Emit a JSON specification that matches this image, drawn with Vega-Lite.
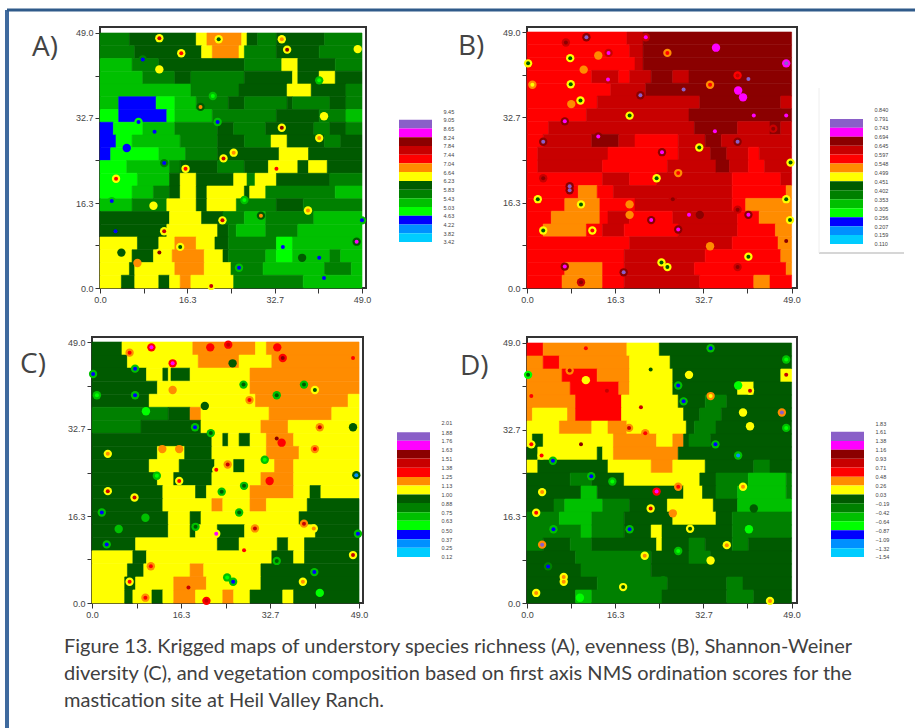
{"$schema":"https://vega.github.io/schema/vega-lite/v6.json","background":"white","padding":{"left":4,"top":7,"right":0,"bottom":0},"bounds":"flush","spacing":310,
"title":{"text":["Figure 13. Krigged maps of understory species richness (A), evenness (B), Shannon-Weiner","diversity (C), and vegetation composition based on first axis NMS ordination scores for the","mastication site at Heil Valley Ranch."],"orient":"bottom","anchor":"start","font":"Lato","fontSize":20,"fontWeight":"normal","color":"#404040","lineHeight":27,"offset":14,"dx":-28,"dy":-108,"frame":"group"},
"config":{"view":{"stroke":null},"axis":{"grid":false,"domain":false,"title":null,"tickColor":"#333","tickSize":5,"labelFont":"Liberation Sans","labelFontSize":9,"labelColor":"#444","labelOverlap":false,"labelBound":false,"labelFlush":false},"title":{"font":"Open Sans","fontSize":28,"fontWeight":"normal","color":"#444","anchor":"start","frame":"group"},"range":{"category":["#8a5fc8","#ff00ff","#8b0000","#c80000","#ff0000","#ff8c00","#ffff00","#005a00","#008000","#00c000","#00ff00","#0000ff","#0090ff","#00ccff"]},"circle":{"opacity":1}},
"datasets":{
"z":[{"v":0}],
"a":[
{"x":0,"x2":5.5,"y":46.55,"y2":49,"c":"g"},{"x":5.5,"x2":18,"y":46.55,"y2":49,"c":"G"},{"x":18,"x2":20,"y":46.55,"y2":49,"c":"y"},{"x":20,"x2":26.5,"y":46.55,"y2":49,"c":"o"},{"x":26.5,"x2":27.5,"y":46.55,"y2":49,"c":"y"},{"x":27.5,"x2":29.5,"y":46.55,"y2":49,"c":"G"},{"x":29.5,"x2":33,"y":46.55,"y2":49,"c":"g"},{"x":33,"x2":42,"y":46.55,"y2":49,"c":"G"},{"x":42,"x2":49,"y":46.55,"y2":49,"c":"g"},
{"x":0,"x2":6.5,"y":44.1,"y2":46.55,"c":"g"},{"x":6.5,"x2":19,"y":44.1,"y2":46.55,"c":"G"},{"x":19,"x2":21,"y":44.1,"y2":46.55,"c":"y"},{"x":21,"x2":26,"y":44.1,"y2":46.55,"c":"o"},{"x":26,"x2":27,"y":44.1,"y2":46.55,"c":"y"},{"x":27,"x2":33,"y":44.1,"y2":46.55,"c":"g"},{"x":33,"x2":41,"y":44.1,"y2":46.55,"c":"G"},{"x":41,"x2":49,"y":44.1,"y2":46.55,"c":"g"},
{"x":0,"x2":6,"y":41.65,"y2":44.1,"c":"m"},{"x":6,"x2":11,"y":41.65,"y2":44.1,"c":"g"},{"x":11,"x2":27,"y":41.65,"y2":44.1,"c":"G"},{"x":27,"x2":34,"y":41.65,"y2":44.1,"c":"g"},{"x":34,"x2":37,"y":41.65,"y2":44.1,"c":"y"},{"x":37,"x2":44,"y":41.65,"y2":44.1,"c":"G"},{"x":44,"x2":49,"y":41.65,"y2":44.1,"c":"g"},
{"x":0,"x2":8,"y":39.2,"y2":41.65,"c":"m"},{"x":8,"x2":14,"y":39.2,"y2":41.65,"c":"g"},{"x":14,"x2":17,"y":39.2,"y2":41.65,"c":"G"},{"x":17,"x2":27,"y":39.2,"y2":41.65,"c":"g"},{"x":27,"x2":36,"y":39.2,"y2":41.65,"c":"G"},{"x":36,"x2":37,"y":39.2,"y2":41.65,"c":"y"},{"x":37,"x2":41,"y":39.2,"y2":41.65,"c":"G"},{"x":41,"x2":44,"y":39.2,"y2":41.65,"c":"y"},{"x":44,"x2":49,"y":39.2,"y2":41.65,"c":"G"},
{"x":0,"x2":17,"y":36.75,"y2":39.2,"c":"m"},{"x":17,"x2":26,"y":36.75,"y2":39.2,"c":"g"},{"x":26,"x2":35,"y":36.75,"y2":39.2,"c":"G"},{"x":35,"x2":39.5,"y":36.75,"y2":39.2,"c":"y"},{"x":39.5,"x2":46,"y":36.75,"y2":39.2,"c":"G"},{"x":46,"x2":49,"y":36.75,"y2":39.2,"c":"g"},
{"x":0,"x2":3.5,"y":34.3,"y2":36.75,"c":"m"},{"x":3.5,"x2":10.5,"y":34.3,"y2":36.75,"c":"B"},{"x":10.5,"x2":14,"y":34.3,"y2":36.75,"c":"l"},{"x":14,"x2":18,"y":34.3,"y2":36.75,"c":"m"},{"x":18,"x2":24,"y":34.3,"y2":36.75,"c":"g"},{"x":24,"x2":27,"y":34.3,"y2":36.75,"c":"G"},{"x":27,"x2":35,"y":34.3,"y2":36.75,"c":"g"},{"x":35,"x2":36,"y":34.3,"y2":36.75,"c":"G"},{"x":36,"x2":43,"y":34.3,"y2":36.75,"c":"g"},{"x":43,"x2":46,"y":34.3,"y2":36.75,"c":"G"},{"x":46,"x2":49,"y":34.3,"y2":36.75,"c":"g"},
{"x":0,"x2":3.5,"y":31.85,"y2":34.3,"c":"l"},{"x":3.5,"x2":12.5,"y":31.85,"y2":34.3,"c":"B"},{"x":12.5,"x2":14,"y":31.85,"y2":34.3,"c":"l"},{"x":14,"x2":21,"y":31.85,"y2":34.3,"c":"m"},{"x":21,"x2":33,"y":31.85,"y2":34.3,"c":"g"},{"x":33,"x2":41,"y":31.85,"y2":34.3,"c":"G"},{"x":41,"x2":46,"y":31.85,"y2":34.3,"c":"g"},{"x":46,"x2":49,"y":31.85,"y2":34.3,"c":"m"},
{"x":0,"x2":2.5,"y":29.4,"y2":31.85,"c":"B"},{"x":2.5,"x2":8,"y":29.4,"y2":31.85,"c":"l"},{"x":8,"x2":14,"y":29.4,"y2":31.85,"c":"m"},{"x":14,"x2":22,"y":29.4,"y2":31.85,"c":"g"},{"x":22,"x2":25,"y":29.4,"y2":31.85,"c":"G"},{"x":25,"x2":31,"y":29.4,"y2":31.85,"c":"g"},{"x":31,"x2":40,"y":29.4,"y2":31.85,"c":"G"},{"x":40,"x2":43,"y":29.4,"y2":31.85,"c":"g"},{"x":43,"x2":46,"y":29.4,"y2":31.85,"c":"G"},{"x":46,"x2":49,"y":29.4,"y2":31.85,"c":"g"},
{"x":0,"x2":3,"y":26.95,"y2":29.4,"c":"B"},{"x":3,"x2":6,"y":26.95,"y2":29.4,"c":"l"},{"x":6,"x2":15,"y":26.95,"y2":29.4,"c":"m"},{"x":15,"x2":22,"y":26.95,"y2":29.4,"c":"g"},{"x":22,"x2":27,"y":26.95,"y2":29.4,"c":"G"},{"x":27,"x2":32,"y":26.95,"y2":29.4,"c":"g"},{"x":32,"x2":35,"y":26.95,"y2":29.4,"c":"y"},{"x":35,"x2":42,"y":26.95,"y2":29.4,"c":"G"},{"x":42,"x2":45,"y":26.95,"y2":29.4,"c":"g"},{"x":45,"x2":49,"y":26.95,"y2":29.4,"c":"G"},
{"x":0,"x2":2,"y":24.5,"y2":26.95,"c":"B"},{"x":2,"x2":11,"y":24.5,"y2":26.95,"c":"l"},{"x":11,"x2":16,"y":24.5,"y2":26.95,"c":"m"},{"x":16,"x2":22,"y":24.5,"y2":26.95,"c":"g"},{"x":22,"x2":33.5,"y":24.5,"y2":26.95,"c":"G"},{"x":33.5,"x2":39,"y":24.5,"y2":26.95,"c":"y"},{"x":39,"x2":49,"y":24.5,"y2":26.95,"c":"G"},
{"x":0,"x2":5,"y":22.05,"y2":24.5,"c":"l"},{"x":5,"x2":13,"y":22.05,"y2":24.5,"c":"m"},{"x":13,"x2":15,"y":22.05,"y2":24.5,"c":"g"},{"x":15,"x2":22,"y":22.05,"y2":24.5,"c":"G"},{"x":22,"x2":27,"y":22.05,"y2":24.5,"c":"g"},{"x":27,"x2":31.5,"y":22.05,"y2":24.5,"c":"G"},{"x":31.5,"x2":37,"y":22.05,"y2":24.5,"c":"y"},{"x":37,"x2":39,"y":22.05,"y2":24.5,"c":"G"},{"x":39,"x2":42.5,"y":22.05,"y2":24.5,"c":"y"},{"x":42.5,"x2":49,"y":22.05,"y2":24.5,"c":"G"},
{"x":0,"x2":7,"y":19.6,"y2":22.05,"c":"l"},{"x":7,"x2":13,"y":19.6,"y2":22.05,"c":"m"},{"x":13,"x2":15,"y":19.6,"y2":22.05,"c":"G"},{"x":15,"x2":18,"y":19.6,"y2":22.05,"c":"y"},{"x":18,"x2":25,"y":19.6,"y2":22.05,"c":"G"},{"x":25,"x2":27.5,"y":19.6,"y2":22.05,"c":"y"},{"x":27.5,"x2":29,"y":19.6,"y2":22.05,"c":"g"},{"x":29,"x2":33,"y":19.6,"y2":22.05,"c":"y"},{"x":33,"x2":43,"y":19.6,"y2":22.05,"c":"G"},{"x":43,"x2":49,"y":19.6,"y2":22.05,"c":"g"},
{"x":0,"x2":6,"y":17.15,"y2":19.6,"c":"l"},{"x":6,"x2":10,"y":17.15,"y2":19.6,"c":"m"},{"x":10,"x2":13,"y":17.15,"y2":19.6,"c":"g"},{"x":13,"x2":15,"y":17.15,"y2":19.6,"c":"G"},{"x":15,"x2":18,"y":17.15,"y2":19.6,"c":"y"},{"x":18,"x2":20,"y":17.15,"y2":19.6,"c":"G"},{"x":20,"x2":27,"y":17.15,"y2":19.6,"c":"y"},{"x":27,"x2":28,"y":17.15,"y2":19.6,"c":"G"},{"x":28,"x2":31,"y":17.15,"y2":19.6,"c":"y"},{"x":31,"x2":44,"y":17.15,"y2":19.6,"c":"g"},{"x":44,"x2":49,"y":17.15,"y2":19.6,"c":"m"},
{"x":0,"x2":6,"y":14.7,"y2":17.15,"c":"m"},{"x":6,"x2":12.5,"y":14.7,"y2":17.15,"c":"g"},{"x":12.5,"x2":18,"y":14.7,"y2":17.15,"c":"y"},{"x":18,"x2":20,"y":14.7,"y2":17.15,"c":"G"},{"x":20,"x2":25.5,"y":14.7,"y2":17.15,"c":"y"},{"x":25.5,"x2":33,"y":14.7,"y2":17.15,"c":"g"},{"x":33,"x2":38,"y":14.7,"y2":17.15,"c":"G"},{"x":38,"x2":49,"y":14.7,"y2":17.15,"c":"g"},
{"x":0,"x2":13,"y":12.25,"y2":14.7,"c":"G"},{"x":13,"x2":19,"y":12.25,"y2":14.7,"c":"y"},{"x":19,"x2":23,"y":12.25,"y2":14.7,"c":"G"},{"x":23,"x2":27,"y":12.25,"y2":14.7,"c":"g"},{"x":27,"x2":31,"y":12.25,"y2":14.7,"c":"m"},{"x":31,"x2":40,"y":12.25,"y2":14.7,"c":"g"},{"x":40,"x2":49,"y":12.25,"y2":14.7,"c":"m"},
{"x":0,"x2":12.5,"y":9.8,"y2":12.25,"c":"G"},{"x":12.5,"x2":22,"y":9.8,"y2":12.25,"c":"y"},{"x":22,"x2":24,"y":9.8,"y2":12.25,"c":"G"},{"x":24,"x2":25.5,"y":9.8,"y2":12.25,"c":"g"},{"x":25.5,"x2":31,"y":9.8,"y2":12.25,"c":"m"},{"x":31,"x2":37,"y":9.8,"y2":12.25,"c":"g"},{"x":37,"x2":49,"y":9.8,"y2":12.25,"c":"m"},
{"x":0,"x2":7,"y":7.35,"y2":9.8,"c":"y"},{"x":7,"x2":11,"y":7.35,"y2":9.8,"c":"G"},{"x":11,"x2":14,"y":7.35,"y2":9.8,"c":"y"},{"x":14,"x2":18,"y":7.35,"y2":9.8,"c":"o"},{"x":18,"x2":21.5,"y":7.35,"y2":9.8,"c":"y"},{"x":21.5,"x2":24,"y":7.35,"y2":9.8,"c":"G"},{"x":24,"x2":33,"y":7.35,"y2":9.8,"c":"g"},{"x":33,"x2":36,"y":7.35,"y2":9.8,"c":"l"},{"x":36,"x2":49,"y":7.35,"y2":9.8,"c":"m"},
{"x":0,"x2":6,"y":4.9,"y2":7.35,"c":"y"},{"x":6,"x2":10,"y":4.9,"y2":7.35,"c":"G"},{"x":10,"x2":13.5,"y":4.9,"y2":7.35,"c":"y"},{"x":13.5,"x2":19.5,"y":4.9,"y2":7.35,"c":"o"},{"x":19.5,"x2":23,"y":4.9,"y2":7.35,"c":"y"},{"x":23,"x2":24,"y":4.9,"y2":7.35,"c":"G"},{"x":24,"x2":31,"y":4.9,"y2":7.35,"c":"g"},{"x":31,"x2":33,"y":4.9,"y2":7.35,"c":"m"},{"x":33,"x2":36,"y":4.9,"y2":7.35,"c":"l"},{"x":36,"x2":43,"y":4.9,"y2":7.35,"c":"m"},{"x":43,"x2":45,"y":4.9,"y2":7.35,"c":"g"},{"x":45,"x2":49,"y":4.9,"y2":7.35,"c":"m"},
{"x":0,"x2":5.5,"y":2.45,"y2":4.9,"c":"y"},{"x":5.5,"x2":6.5,"y":2.45,"y2":4.9,"c":"G"},{"x":6.5,"x2":14,"y":2.45,"y2":4.9,"c":"y"},{"x":14,"x2":19.5,"y":2.45,"y2":4.9,"c":"o"},{"x":19.5,"x2":24.5,"y":2.45,"y2":4.9,"c":"y"},{"x":24.5,"x2":30.5,"y":2.45,"y2":4.9,"c":"g"},{"x":30.5,"x2":42,"y":2.45,"y2":4.9,"c":"m"},{"x":42,"x2":47,"y":2.45,"y2":4.9,"c":"g"},{"x":47,"x2":49,"y":2.45,"y2":4.9,"c":"m"},
{"x":0,"x2":4,"y":0,"y2":2.45,"c":"y"},{"x":4,"x2":6.5,"y":0,"y2":2.45,"c":"G"},{"x":6.5,"x2":11,"y":0,"y2":2.45,"c":"y"},{"x":11,"x2":13,"y":0,"y2":2.45,"c":"G"},{"x":13,"x2":15,"y":0,"y2":2.45,"c":"y"},{"x":15,"x2":17,"y":0,"y2":2.45,"c":"o"},{"x":17,"x2":25,"y":0,"y2":2.45,"c":"y"},{"x":25,"x2":38,"y":0,"y2":2.45,"c":"g"},{"x":38,"x2":49,"y":0,"y2":2.45,"c":"m"}],
"as":[{"x":11.1,"y":48,"h":"y","k":"R"},{"x":15.2,"y":45.1,"h":"y","k":"r"},{"x":8,"y":43.9,"h":"g","k":"B"},{"x":11.1,"y":42,"h":"y","k":"y"},{"x":34,"y":47.8,"h":"y","k":"o"},{"x":35,"y":45.8,"h":"y","k":"D"},{"x":22.2,"y":47.8,"h":"y","k":"G"},{"x":48.2,"y":45.9,"h":"y","k":"y"},{"x":18.8,"y":34.8,"h":"G","k":"o"},{"x":21.1,"y":36.9,"h":"m","k":"l"},{"x":34,"y":30.8,"h":"y","k":"D"},{"x":41,"y":28.8,"h":"y","k":"o"},{"x":41.9,"y":33,"h":"y","k":"y"},{"x":7.2,"y":31.9,"h":"l","k":"B"},{"x":22,"y":31.9,"h":"m","k":"B"},{"x":5,"y":26.9,"h":"B","k":"B"},{"x":12,"y":24,"h":"g","k":"B"},{"x":10.2,"y":30,"h":"m","k":"B"},{"x":23.1,"y":24.9,"h":"y","k":"R"},{"x":25,"y":26,"h":"y","k":"o"},{"x":16,"y":22.9,"h":"y","k":"r"},{"x":33,"y":22.9,"h":"y","k":"r"},{"x":3,"y":21,"h":"y","k":"r"},{"x":2.2,"y":16.7,"h":"m","k":"B"},{"x":38.9,"y":14.9,"h":"y","k":"o"},{"x":30.1,"y":13.9,"h":"G","k":"o"},{"x":22.9,"y":13,"h":"y","k":"R"},{"x":10,"y":15.8,"h":"y","k":"y"},{"x":27,"y":16.9,"h":"m","k":"l"},{"x":12,"y":10.9,"h":"y","k":"R"},{"x":2.9,"y":10.9,"h":"G","k":"B"},{"x":11.1,"y":6.8,"h":"y","k":"D"},{"x":15,"y":7.9,"h":"y","k":"G"},{"x":4,"y":6.8,"h":"G","k":"G"},{"x":7,"y":4.8,"h":"o","k":"o"},{"x":48,"y":8.9,"h":"G","k":"M"},{"x":34.2,"y":7.9,"h":"l","k":"B"},{"x":26,"y":3.9,"h":"m","k":"B"},{"x":37.8,"y":5.8,"h":"G","k":"G"},{"x":41,"y":5.8,"h":"m","k":"B"},{"x":41.9,"y":1.9,"h":"m","k":"B"},{"x":20.8,"y":0.4,"h":"y","k":"R"},{"x":49,"y":13,"h":"m","k":"B"},{"x":41,"y":39.9,"h":"m","k":"l"}],
"b":[
{"x":0,"x2":18.5,"y":46.55,"y2":49,"c":"r"},{"x":18.5,"x2":21.5,"y":46.55,"y2":49,"c":"R"},{"x":21.5,"x2":49,"y":46.55,"y2":49,"c":"D"},
{"x":0,"x2":19,"y":44.1,"y2":46.55,"c":"r"},{"x":19,"x2":21.5,"y":44.1,"y2":46.55,"c":"R"},{"x":21.5,"x2":49,"y":44.1,"y2":46.55,"c":"D"},
{"x":0,"x2":20,"y":41.65,"y2":44.1,"c":"r"},{"x":20,"x2":21.5,"y":41.65,"y2":44.1,"c":"R"},{"x":21.5,"x2":49,"y":41.65,"y2":44.1,"c":"D"},
{"x":0,"x2":12,"y":39.2,"y2":41.65,"c":"r"},{"x":12,"x2":17,"y":39.2,"y2":41.65,"c":"R"},{"x":17,"x2":19,"y":39.2,"y2":41.65,"c":"r"},{"x":19,"x2":23,"y":39.2,"y2":41.65,"c":"R"},{"x":23,"x2":27,"y":39.2,"y2":41.65,"c":"D"},{"x":27,"x2":30,"y":39.2,"y2":41.65,"c":"R"},{"x":30,"x2":49,"y":39.2,"y2":41.65,"c":"D"},
{"x":0,"x2":15.5,"y":36.75,"y2":39.2,"c":"r"},{"x":15.5,"x2":22,"y":36.75,"y2":39.2,"c":"R"},{"x":22,"x2":49,"y":36.75,"y2":39.2,"c":"D"},
{"x":0,"x2":13,"y":34.3,"y2":36.75,"c":"r"},{"x":13,"x2":32,"y":34.3,"y2":36.75,"c":"R"},{"x":32,"x2":47,"y":34.3,"y2":36.75,"c":"D"},{"x":47,"x2":49,"y":34.3,"y2":36.75,"c":"R"},
{"x":0,"x2":11,"y":31.85,"y2":34.3,"c":"r"},{"x":11,"x2":30,"y":31.85,"y2":34.3,"c":"R"},{"x":30,"x2":49,"y":31.85,"y2":34.3,"c":"D"},
{"x":0,"x2":4,"y":29.4,"y2":31.85,"c":"r"},{"x":4,"x2":31,"y":29.4,"y2":31.85,"c":"R"},{"x":31,"x2":39,"y":29.4,"y2":31.85,"c":"D"},{"x":39,"x2":45,"y":29.4,"y2":31.85,"c":"R"},{"x":45,"x2":47,"y":29.4,"y2":31.85,"c":"D"},{"x":47,"x2":49,"y":29.4,"y2":31.85,"c":"R"},
{"x":0,"x2":3,"y":26.95,"y2":29.4,"c":"r"},{"x":3,"x2":12,"y":26.95,"y2":29.4,"c":"R"},{"x":12,"x2":17,"y":26.95,"y2":29.4,"c":"D"},{"x":17,"x2":20,"y":26.95,"y2":29.4,"c":"R"},{"x":20,"x2":28,"y":26.95,"y2":29.4,"c":"r"},{"x":28,"x2":33,"y":26.95,"y2":29.4,"c":"R"},{"x":33,"x2":36,"y":26.95,"y2":29.4,"c":"D"},{"x":36,"x2":49,"y":26.95,"y2":29.4,"c":"R"},
{"x":0,"x2":2,"y":24.5,"y2":26.95,"c":"r"},{"x":2,"x2":15,"y":24.5,"y2":26.95,"c":"R"},{"x":15,"x2":28,"y":24.5,"y2":26.95,"c":"r"},{"x":28,"x2":34,"y":24.5,"y2":26.95,"c":"R"},{"x":34,"x2":37,"y":24.5,"y2":26.95,"c":"D"},{"x":37,"x2":41,"y":24.5,"y2":26.95,"c":"R"},{"x":41,"x2":43,"y":24.5,"y2":26.95,"c":"r"},{"x":43,"x2":49,"y":24.5,"y2":26.95,"c":"R"},
{"x":0,"x2":2,"y":22.05,"y2":24.5,"c":"r"},{"x":2,"x2":14,"y":22.05,"y2":24.5,"c":"R"},{"x":14,"x2":26,"y":22.05,"y2":24.5,"c":"r"},{"x":26,"x2":35,"y":22.05,"y2":24.5,"c":"R"},{"x":35,"x2":37.5,"y":22.05,"y2":24.5,"c":"D"},{"x":37.5,"x2":41,"y":22.05,"y2":24.5,"c":"R"},{"x":41,"x2":44,"y":22.05,"y2":24.5,"c":"r"},{"x":44,"x2":49,"y":22.05,"y2":24.5,"c":"R"},
{"x":0,"x2":14,"y":19.6,"y2":22.05,"c":"r"},{"x":14,"x2":19,"y":19.6,"y2":22.05,"c":"R"},{"x":19,"x2":24,"y":19.6,"y2":22.05,"c":"r"},{"x":24,"x2":38,"y":19.6,"y2":22.05,"c":"R"},{"x":38,"x2":47,"y":19.6,"y2":22.05,"c":"r"},{"x":47,"x2":49,"y":19.6,"y2":22.05,"c":"R"},
{"x":0,"x2":9.5,"y":17.15,"y2":19.6,"c":"r"},{"x":9.5,"x2":13,"y":17.15,"y2":19.6,"c":"o"},{"x":13,"x2":16,"y":17.15,"y2":19.6,"c":"r"},{"x":16,"x2":38,"y":17.15,"y2":19.6,"c":"R"},{"x":38,"x2":48,"y":17.15,"y2":19.6,"c":"r"},{"x":48,"x2":49,"y":17.15,"y2":19.6,"c":"o"},
{"x":0,"x2":7,"y":14.7,"y2":17.15,"c":"r"},{"x":7,"x2":13.5,"y":14.7,"y2":17.15,"c":"o"},{"x":13.5,"x2":20,"y":14.7,"y2":17.15,"c":"r"},{"x":20,"x2":38,"y":14.7,"y2":17.15,"c":"R"},{"x":38,"x2":40.5,"y":14.7,"y2":17.15,"c":"r"},{"x":40.5,"x2":49,"y":14.7,"y2":17.15,"c":"o"},
{"x":0,"x2":4.5,"y":12.25,"y2":14.7,"c":"r"},{"x":4.5,"x2":13.5,"y":12.25,"y2":14.7,"c":"o"},{"x":13.5,"x2":15,"y":12.25,"y2":14.7,"c":"r"},{"x":15,"x2":19,"y":12.25,"y2":14.7,"c":"R"},{"x":19,"x2":27,"y":12.25,"y2":14.7,"c":"r"},{"x":27,"x2":39,"y":12.25,"y2":14.7,"c":"R"},{"x":39,"x2":43,"y":12.25,"y2":14.7,"c":"r"},{"x":43,"x2":49,"y":12.25,"y2":14.7,"c":"o"},
{"x":0,"x2":3,"y":9.8,"y2":12.25,"c":"r"},{"x":3,"x2":11,"y":9.8,"y2":12.25,"c":"o"},{"x":11,"x2":14,"y":9.8,"y2":12.25,"c":"r"},{"x":14,"x2":18,"y":9.8,"y2":12.25,"c":"R"},{"x":18,"x2":28,"y":9.8,"y2":12.25,"c":"r"},{"x":28,"x2":39,"y":9.8,"y2":12.25,"c":"R"},{"x":39,"x2":46,"y":9.8,"y2":12.25,"c":"r"},{"x":46,"x2":49,"y":9.8,"y2":12.25,"c":"o"},
{"x":0,"x2":19,"y":7.35,"y2":9.8,"c":"r"},{"x":19,"x2":38,"y":7.35,"y2":9.8,"c":"R"},{"x":38,"x2":46.5,"y":7.35,"y2":9.8,"c":"r"},{"x":46.5,"x2":49,"y":7.35,"y2":9.8,"c":"o"},
{"x":0,"x2":18,"y":4.9,"y2":7.35,"c":"r"},{"x":18,"x2":33,"y":4.9,"y2":7.35,"c":"R"},{"x":33,"x2":47,"y":4.9,"y2":7.35,"c":"r"},{"x":47,"x2":49,"y":4.9,"y2":7.35,"c":"o"},
{"x":0,"x2":7,"y":2.45,"y2":4.9,"c":"r"},{"x":7,"x2":14,"y":2.45,"y2":4.9,"c":"o"},{"x":14,"x2":18,"y":2.45,"y2":4.9,"c":"r"},{"x":18,"x2":31,"y":2.45,"y2":4.9,"c":"R"},{"x":31,"x2":48,"y":2.45,"y2":4.9,"c":"r"},{"x":48,"x2":49,"y":2.45,"y2":4.9,"c":"o"},
{"x":0,"x2":6.5,"y":0,"y2":2.45,"c":"r"},{"x":6.5,"x2":14,"y":0,"y2":2.45,"c":"o"},{"x":14,"x2":18,"y":0,"y2":2.45,"c":"r"},{"x":18,"x2":32,"y":0,"y2":2.45,"c":"R"},{"x":32,"x2":42,"y":0,"y2":2.45,"c":"r"},{"x":42,"x2":45,"y":0,"y2":2.45,"c":"o"},{"x":45,"x2":49,"y":0,"y2":2.45,"c":"r"}],
"bs":[{"x":11,"y":48,"h":"D","k":"P"},{"x":22,"y":48,"h":"R","k":"M"},{"x":7.2,"y":47,"h":"R","k":"D"},{"x":26,"y":45,"h":"o","k":"r"},{"x":35,"y":46,"h":"M","k":"M"},{"x":15.1,"y":45,"h":"R","k":"M"},{"x":8,"y":44,"h":"y","k":"G"},{"x":0.2,"y":43,"h":"y","k":"G"},{"x":13.2,"y":44.5,"h":"o","k":"o"},{"x":48,"y":43,"h":"M","k":"P"},{"x":10.5,"y":41.8,"h":"o","k":"o"},{"x":15,"y":39.9,"h":"R","k":"M"},{"x":8.1,"y":39,"h":"y","k":"G"},{"x":1,"y":38.9,"h":"o","k":"y"},{"x":41,"y":40,"h":"D","k":"P"},{"x":39,"y":40.7,"h":"r","k":"R"},{"x":33.9,"y":38.9,"h":"o","k":"r"},{"x":29,"y":38,"h":"D","k":"P"},{"x":21,"y":36.9,"h":"D","k":"P"},{"x":39.1,"y":37.8,"h":"M","k":"M"},{"x":40,"y":36.5,"h":"M","k":"M"},{"x":9.9,"y":35.9,"h":"y","k":"G"},{"x":8.2,"y":35.2,"h":"o","k":"o"},{"x":7,"y":31.9,"h":"D","k":"M"},{"x":19,"y":33,"h":"y","k":"G"},{"x":42,"y":33,"h":"D","k":"M"},{"x":48,"y":33,"h":"D","k":"M"},{"x":13.2,"y":29,"h":"D","k":"M"},{"x":3,"y":28,"h":"D","k":"P"},{"x":39,"y":28,"h":"D","k":"P"},{"x":34.8,"y":30,"h":"D","k":"M"},{"x":45.6,"y":30.5,"h":"R","k":"D"},{"x":31.9,"y":26.9,"h":"y","k":"G"},{"x":25,"y":26,"h":"D","k":"M"},{"x":48.8,"y":24,"h":"y","k":"G"},{"x":28,"y":22,"h":"o","k":"r"},{"x":24,"y":21,"h":"y","k":"G"},{"x":3,"y":21,"h":"R","k":"D"},{"x":7.9,"y":19.5,"h":"D","k":"P"},{"x":7.9,"y":18.7,"h":"D","k":"P"},{"x":2,"y":17,"h":"y","k":"G"},{"x":10,"y":16,"h":"y","k":"G"},{"x":19,"y":16,"h":"o","k":"o"},{"x":19,"y":14,"h":"o","k":"o"},{"x":23,"y":13,"h":"D","k":"M"},{"x":30,"y":14,"h":"R","k":"M"},{"x":41,"y":14,"h":"D","k":"M"},{"x":39,"y":15,"h":"R","k":"D"},{"x":48,"y":17,"h":"y","k":"G"},{"x":48.7,"y":13,"h":"y","k":"G"},{"x":3,"y":11,"h":"y","k":"G"},{"x":12.1,"y":11,"h":"y","k":"r"},{"x":28,"y":11.2,"h":"D","k":"M"},{"x":48,"y":9,"h":"o","k":"D"},{"x":33.9,"y":8,"h":"o","k":"o"},{"x":41,"y":6,"h":"y","k":"G"},{"x":24.9,"y":4.9,"h":"y","k":"G"},{"x":26,"y":4,"h":"y","k":"G"},{"x":7,"y":4.1,"h":"D","k":"M"},{"x":17.9,"y":3,"h":"D","k":"P"},{"x":39,"y":4,"h":"R","k":"D"},{"x":10,"y":1.1,"h":"R","k":"D"},{"x":27,"y":17,"h":"R","k":"D"},{"x":32,"y":14,"h":"D","k":"D"}],
"c":[
{"x":0,"x2":5.5,"y":46.55,"y2":49,"c":"G"},{"x":5.5,"x2":18.5,"y":46.55,"y2":49,"c":"y"},{"x":18.5,"x2":30,"y":46.55,"y2":49,"c":"o"},{"x":30,"x2":32,"y":46.55,"y2":49,"c":"y"},{"x":32,"x2":49,"y":46.55,"y2":49,"c":"o"},
{"x":0,"x2":6.5,"y":44.1,"y2":46.55,"c":"G"},{"x":6.5,"x2":19.5,"y":44.1,"y2":46.55,"c":"y"},{"x":19.5,"x2":27,"y":44.1,"y2":46.55,"c":"o"},{"x":27,"x2":33,"y":44.1,"y2":46.55,"c":"y"},{"x":33,"x2":49,"y":44.1,"y2":46.55,"c":"o"},
{"x":0,"x2":10,"y":41.65,"y2":44.1,"c":"G"},{"x":10,"x2":13,"y":41.65,"y2":44.1,"c":"y"},{"x":13,"x2":14,"y":41.65,"y2":44.1,"c":"G"},{"x":14,"x2":14.5,"y":41.65,"y2":44.1,"c":"y"},{"x":14.5,"x2":18,"y":41.65,"y2":44.1,"c":"G"},{"x":18,"x2":29,"y":41.65,"y2":44.1,"c":"y"},{"x":29,"x2":49,"y":41.65,"y2":44.1,"c":"o"},
{"x":0,"x2":12,"y":39.2,"y2":41.65,"c":"G"},{"x":12,"x2":29,"y":39.2,"y2":41.65,"c":"y"},{"x":29,"x2":49,"y":39.2,"y2":41.65,"c":"o"},
{"x":0,"x2":10.5,"y":36.75,"y2":39.2,"c":"G"},{"x":10.5,"x2":30,"y":36.75,"y2":39.2,"c":"y"},{"x":30,"x2":47,"y":36.75,"y2":39.2,"c":"o"},{"x":47,"x2":49,"y":36.75,"y2":39.2,"c":"y"},
{"x":0,"x2":14,"y":34.3,"y2":36.75,"c":"g"},{"x":14,"x2":18,"y":34.3,"y2":36.75,"c":"G"},{"x":18,"x2":20,"y":34.3,"y2":36.75,"c":"o"},{"x":20,"x2":32.5,"y":34.3,"y2":36.75,"c":"y"},{"x":32.5,"x2":44,"y":34.3,"y2":36.75,"c":"o"},{"x":44,"x2":49,"y":34.3,"y2":36.75,"c":"y"},
{"x":0,"x2":9,"y":31.85,"y2":34.3,"c":"g"},{"x":9,"x2":20,"y":31.85,"y2":34.3,"c":"G"},{"x":20,"x2":31,"y":31.85,"y2":34.3,"c":"y"},{"x":31,"x2":36,"y":31.85,"y2":34.3,"c":"o"},{"x":36,"x2":49,"y":31.85,"y2":34.3,"c":"y"},
{"x":0,"x2":22,"y":29.4,"y2":31.85,"c":"G"},{"x":22,"x2":24,"y":29.4,"y2":31.85,"c":"y"},{"x":24,"x2":25,"y":29.4,"y2":31.85,"c":"G"},{"x":25,"x2":27,"y":29.4,"y2":31.85,"c":"y"},{"x":27,"x2":29,"y":29.4,"y2":31.85,"c":"G"},{"x":29,"x2":32,"y":29.4,"y2":31.85,"c":"y"},{"x":32,"x2":37,"y":29.4,"y2":31.85,"c":"o"},{"x":37,"x2":49,"y":29.4,"y2":31.85,"c":"y"},
{"x":0,"x2":12,"y":26.95,"y2":29.4,"c":"G"},{"x":12,"x2":17,"y":26.95,"y2":29.4,"c":"y"},{"x":17,"x2":22,"y":26.95,"y2":29.4,"c":"G"},{"x":22,"x2":32,"y":26.95,"y2":29.4,"c":"y"},{"x":32,"x2":38,"y":26.95,"y2":29.4,"c":"o"},{"x":38,"x2":49,"y":26.95,"y2":29.4,"c":"y"},
{"x":0,"x2":10.5,"y":24.5,"y2":26.95,"c":"G"},{"x":10.5,"x2":16,"y":24.5,"y2":26.95,"c":"y"},{"x":16,"x2":22.5,"y":24.5,"y2":26.95,"c":"G"},{"x":22.5,"x2":26,"y":24.5,"y2":26.95,"c":"y"},{"x":26,"x2":28,"y":24.5,"y2":26.95,"c":"G"},{"x":28,"x2":33.5,"y":24.5,"y2":26.95,"c":"y"},{"x":33.5,"x2":37,"y":24.5,"y2":26.95,"c":"o"},{"x":37,"x2":49,"y":24.5,"y2":26.95,"c":"y"},
{"x":0,"x2":12,"y":22.05,"y2":24.5,"c":"G"},{"x":12,"x2":15,"y":22.05,"y2":24.5,"c":"y"},{"x":15,"x2":22,"y":22.05,"y2":24.5,"c":"G"},{"x":22,"x2":31,"y":22.05,"y2":24.5,"c":"y"},{"x":31,"x2":37,"y":22.05,"y2":24.5,"c":"o"},{"x":37,"x2":49,"y":22.05,"y2":24.5,"c":"y"},
{"x":0,"x2":13,"y":19.6,"y2":22.05,"c":"G"},{"x":13,"x2":19,"y":19.6,"y2":22.05,"c":"y"},{"x":19,"x2":21,"y":19.6,"y2":22.05,"c":"G"},{"x":21,"x2":29,"y":19.6,"y2":22.05,"c":"y"},{"x":29,"x2":37,"y":19.6,"y2":22.05,"c":"o"},{"x":37,"x2":40,"y":19.6,"y2":22.05,"c":"y"},{"x":40,"x2":42,"y":19.6,"y2":22.05,"c":"G"},{"x":42,"x2":49,"y":19.6,"y2":22.05,"c":"y"},
{"x":0,"x2":13,"y":17.15,"y2":19.6,"c":"G"},{"x":13,"x2":22,"y":17.15,"y2":19.6,"c":"y"},{"x":22,"x2":24,"y":17.15,"y2":19.6,"c":"o"},{"x":24,"x2":29,"y":17.15,"y2":19.6,"c":"y"},{"x":29,"x2":32,"y":17.15,"y2":19.6,"c":"o"},{"x":32,"x2":39.5,"y":17.15,"y2":19.6,"c":"y"},{"x":39.5,"x2":49,"y":17.15,"y2":19.6,"c":"G"},
{"x":0,"x2":14,"y":14.7,"y2":17.15,"c":"G"},{"x":14,"x2":18,"y":14.7,"y2":17.15,"c":"y"},{"x":18,"x2":20,"y":14.7,"y2":17.15,"c":"G"},{"x":20,"x2":38,"y":14.7,"y2":17.15,"c":"y"},{"x":38,"x2":49,"y":14.7,"y2":17.15,"c":"G"},
{"x":0,"x2":14,"y":12.25,"y2":14.7,"c":"G"},{"x":14,"x2":18,"y":12.25,"y2":14.7,"c":"y"},{"x":18,"x2":19,"y":12.25,"y2":14.7,"c":"G"},{"x":19,"x2":23,"y":12.25,"y2":14.7,"c":"y"},{"x":23,"x2":28,"y":12.25,"y2":14.7,"c":"G"},{"x":28,"x2":41,"y":12.25,"y2":14.7,"c":"y"},{"x":41,"x2":49,"y":12.25,"y2":14.7,"c":"G"},
{"x":0,"x2":8,"y":9.8,"y2":12.25,"c":"G"},{"x":8,"x2":23,"y":9.8,"y2":12.25,"c":"y"},{"x":23,"x2":27,"y":9.8,"y2":12.25,"c":"G"},{"x":27,"x2":34,"y":9.8,"y2":12.25,"c":"y"},{"x":34,"x2":36,"y":9.8,"y2":12.25,"c":"G"},{"x":36,"x2":39,"y":9.8,"y2":12.25,"c":"y"},{"x":39,"x2":49,"y":9.8,"y2":12.25,"c":"G"},
{"x":0,"x2":7.5,"y":7.35,"y2":9.8,"c":"y"},{"x":7.5,"x2":10,"y":7.35,"y2":9.8,"c":"G"},{"x":10,"x2":33,"y":7.35,"y2":9.8,"c":"y"},{"x":33,"x2":37,"y":7.35,"y2":9.8,"c":"G"},{"x":37,"x2":39,"y":7.35,"y2":9.8,"c":"y"},{"x":39,"x2":49,"y":7.35,"y2":9.8,"c":"G"},
{"x":0,"x2":6.5,"y":4.9,"y2":7.35,"c":"y"},{"x":6.5,"x2":9.5,"y":4.9,"y2":7.35,"c":"G"},{"x":9.5,"x2":18,"y":4.9,"y2":7.35,"c":"y"},{"x":18,"x2":20.5,"y":4.9,"y2":7.35,"c":"o"},{"x":20.5,"x2":31,"y":4.9,"y2":7.35,"c":"y"},{"x":31,"x2":49,"y":4.9,"y2":7.35,"c":"G"},
{"x":0,"x2":6,"y":2.45,"y2":4.9,"c":"y"},{"x":6,"x2":8,"y":2.45,"y2":4.9,"c":"G"},{"x":8,"x2":15,"y":2.45,"y2":4.9,"c":"y"},{"x":15,"x2":21,"y":2.45,"y2":4.9,"c":"o"},{"x":21,"x2":31,"y":2.45,"y2":4.9,"c":"y"},{"x":31,"x2":49,"y":2.45,"y2":4.9,"c":"G"},
{"x":0,"x2":6,"y":0,"y2":2.45,"c":"y"},{"x":6,"x2":7.5,"y":0,"y2":2.45,"c":"G"},{"x":7.5,"x2":11,"y":0,"y2":2.45,"c":"y"},{"x":11,"x2":13,"y":0,"y2":2.45,"c":"G"},{"x":13,"x2":15,"y":0,"y2":2.45,"c":"y"},{"x":15,"x2":19,"y":0,"y2":2.45,"c":"o"},{"x":19,"x2":24,"y":0,"y2":2.45,"c":"y"},{"x":24,"x2":26,"y":0,"y2":2.45,"c":"o"},{"x":26,"x2":29,"y":0,"y2":2.45,"c":"y"},{"x":29,"x2":35,"y":0,"y2":2.45,"c":"G"},{"x":35,"x2":37,"y":0,"y2":2.45,"c":"y"},{"x":37,"x2":49,"y":0,"y2":2.45,"c":"G"}],
"cs":[{"x":10.9,"y":48,"h":"r","k":"M"},{"x":6.9,"y":47,"h":"o","k":"r"},{"x":14.8,"y":45,"h":"r","k":"M"},{"x":7.9,"y":44,"h":"m","k":"B"},{"x":21.7,"y":48,"h":"r","k":"r"},{"x":25,"y":48.5,"h":"r","k":"R"},{"x":34,"y":48,"h":"r","k":"r"},{"x":35,"y":46,"h":"r","k":"D"},{"x":47.9,"y":46,"h":"o","k":"r"},{"x":25.8,"y":45,"h":"G","k":"G"},{"x":27.8,"y":41,"h":"m","k":"G"},{"x":38.9,"y":41,"h":"m","k":"G"},{"x":40.9,"y":40,"h":"y","k":"G"},{"x":33.9,"y":39,"h":"m","k":"G"},{"x":28.9,"y":38.1,"h":"o","k":"r"},{"x":0.9,"y":39,"h":"m","k":"l"},{"x":7.9,"y":39,"h":"m","k":"B"},{"x":9.9,"y":36,"h":"l","k":"l"},{"x":0.2,"y":43,"h":"m","k":"B"},{"x":14.8,"y":40,"h":"o","k":"o"},{"x":20.7,"y":37,"h":"G","k":"G"},{"x":18.9,"y":33,"h":"m","k":"B"},{"x":21.8,"y":31.9,"h":"m","k":"G"},{"x":41.8,"y":33,"h":"o","k":"R"},{"x":33.9,"y":30.9,"h":"o","k":"D"},{"x":34.8,"y":30.1,"h":"r","k":"r"},{"x":40.9,"y":28.9,"h":"o","k":"r"},{"x":47.9,"y":33,"h":"G","k":"G"},{"x":2.9,"y":28,"h":"y","k":"o"},{"x":12.9,"y":28.9,"h":"o","k":"o"},{"x":16,"y":28.9,"h":"o","k":"o"},{"x":24.9,"y":26,"h":"o","k":"R"},{"x":22.8,"y":25,"h":"y","k":"r"},{"x":31.7,"y":26.9,"h":"m","k":"l"},{"x":11.9,"y":23.9,"h":"m","k":"l"},{"x":16,"y":22.9,"h":"y","k":"r"},{"x":27.9,"y":22,"h":"m","k":"G"},{"x":23.8,"y":20.9,"h":"m","k":"G"},{"x":32.6,"y":22.9,"h":"r","k":"r"},{"x":2.9,"y":21,"h":"y","k":"R"},{"x":7.8,"y":19.8,"h":"y","k":"R"},{"x":48.5,"y":24,"h":"G","k":"a"},{"x":1.8,"y":17,"h":"m","k":"B"},{"x":27,"y":17,"h":"m","k":"G"},{"x":9.8,"y":16,"h":"m","k":"m"},{"x":4.9,"y":13.9,"h":"m","k":"m"},{"x":19,"y":14.3,"h":"m","k":"G"},{"x":22.8,"y":13,"h":"y","k":"M"},{"x":29.9,"y":14,"h":"o","k":"R"},{"x":38.9,"y":14.9,"h":"o","k":"R"},{"x":40.7,"y":14,"h":"y","k":"o"},{"x":48.8,"y":13,"h":"m","k":"B"},{"x":2.7,"y":11,"h":"m","k":"B"},{"x":27.9,"y":9.9,"h":"y","k":"r"},{"x":47.9,"y":9,"h":"y","k":"R"},{"x":10.8,"y":6.9,"h":"o","k":"r"},{"x":6.9,"y":4,"h":"y","k":"r"},{"x":9.8,"y":1,"h":"o","k":"r"},{"x":17.7,"y":2.9,"h":"o","k":"R"},{"x":24.8,"y":4.8,"h":"m","k":"l"},{"x":25.9,"y":4,"h":"m","k":"B"},{"x":40.8,"y":5.8,"h":"m","k":"B"},{"x":38.7,"y":4,"h":"y","k":"o"},{"x":33.9,"y":7.9,"h":"m","k":"G"},{"x":41.8,"y":1.9,"h":"l","k":"l"},{"x":21,"y":0.4,"h":"r","k":"R"}],
"d":[
{"x":0,"x2":3,"y":46.55,"y2":49,"c":"r"},{"x":3,"x2":18.5,"y":46.55,"y2":49,"c":"o"},{"x":18.5,"x2":24.5,"y":46.55,"y2":49,"c":"y"},{"x":24.5,"x2":49,"y":46.55,"y2":49,"c":"G"},
{"x":0,"x2":3,"y":44.1,"y2":46.55,"c":"o"},{"x":3,"x2":6,"y":44.1,"y2":46.55,"c":"r"},{"x":6,"x2":19,"y":44.1,"y2":46.55,"c":"o"},{"x":19,"x2":26.5,"y":44.1,"y2":46.55,"c":"y"},{"x":26.5,"x2":49,"y":44.1,"y2":46.55,"c":"G"},
{"x":0,"x2":6.5,"y":41.65,"y2":44.1,"c":"o"},{"x":6.5,"x2":13,"y":41.65,"y2":44.1,"c":"r"},{"x":13,"x2":19,"y":41.65,"y2":44.1,"c":"o"},{"x":19,"x2":27,"y":41.65,"y2":44.1,"c":"y"},{"x":27,"x2":47,"y":41.65,"y2":44.1,"c":"G"},{"x":47,"x2":49,"y":41.65,"y2":44.1,"c":"y"},
{"x":0,"x2":8,"y":39.2,"y2":41.65,"c":"o"},{"x":8,"x2":17,"y":39.2,"y2":41.65,"c":"r"},{"x":17,"x2":19,"y":39.2,"y2":41.65,"c":"o"},{"x":19,"x2":27,"y":39.2,"y2":41.65,"c":"y"},{"x":27,"x2":39,"y":39.2,"y2":41.65,"c":"G"},{"x":39,"x2":42,"y":39.2,"y2":41.65,"c":"y"},{"x":42,"x2":49,"y":39.2,"y2":41.65,"c":"G"},
{"x":0,"x2":9,"y":36.75,"y2":39.2,"c":"o"},{"x":9,"x2":17.5,"y":36.75,"y2":39.2,"c":"r"},{"x":17.5,"x2":28,"y":36.75,"y2":39.2,"c":"y"},{"x":28,"x2":33,"y":36.75,"y2":39.2,"c":"G"},{"x":33,"x2":37,"y":36.75,"y2":39.2,"c":"g"},{"x":37,"x2":49,"y":36.75,"y2":39.2,"c":"G"},
{"x":0,"x2":1,"y":34.3,"y2":36.75,"c":"o"},{"x":1,"x2":7.5,"y":34.3,"y2":36.75,"c":"y"},{"x":7.5,"x2":9,"y":34.3,"y2":36.75,"c":"o"},{"x":9,"x2":17.5,"y":34.3,"y2":36.75,"c":"r"},{"x":17.5,"x2":29,"y":34.3,"y2":36.75,"c":"y"},{"x":29,"x2":32,"y":34.3,"y2":36.75,"c":"G"},{"x":32,"x2":36,"y":34.3,"y2":36.75,"c":"g"},{"x":36,"x2":49,"y":34.3,"y2":36.75,"c":"G"},
{"x":0,"x2":6,"y":31.85,"y2":34.3,"c":"y"},{"x":6,"x2":12,"y":31.85,"y2":34.3,"c":"o"},{"x":12,"x2":15,"y":31.85,"y2":34.3,"c":"y"},{"x":15,"x2":18.5,"y":31.85,"y2":34.3,"c":"o"},{"x":18.5,"x2":29.5,"y":31.85,"y2":34.3,"c":"y"},{"x":29.5,"x2":31,"y":31.85,"y2":34.3,"c":"G"},{"x":31,"x2":35,"y":31.85,"y2":34.3,"c":"g"},{"x":35,"x2":49,"y":31.85,"y2":34.3,"c":"G"},
{"x":0,"x2":1,"y":29.4,"y2":31.85,"c":"y"},{"x":1,"x2":3,"y":29.4,"y2":31.85,"c":"G"},{"x":3,"x2":16,"y":29.4,"y2":31.85,"c":"y"},{"x":16,"x2":24,"y":29.4,"y2":31.85,"c":"o"},{"x":24,"x2":27,"y":29.4,"y2":31.85,"c":"y"},{"x":27,"x2":29,"y":29.4,"y2":31.85,"c":"o"},{"x":29,"x2":30,"y":29.4,"y2":31.85,"c":"G"},{"x":30,"x2":34,"y":29.4,"y2":31.85,"c":"g"},{"x":34,"x2":49,"y":29.4,"y2":31.85,"c":"G"},
{"x":0,"x2":2,"y":26.95,"y2":29.4,"c":"G"},{"x":2,"x2":13,"y":26.95,"y2":29.4,"c":"y"},{"x":13,"x2":14,"y":26.95,"y2":29.4,"c":"G"},{"x":14,"x2":16,"y":26.95,"y2":29.4,"c":"y"},{"x":16,"x2":28,"y":26.95,"y2":29.4,"c":"o"},{"x":28,"x2":49,"y":26.95,"y2":29.4,"c":"G"},
{"x":0,"x2":2,"y":24.5,"y2":26.95,"c":"y"},{"x":2,"x2":15,"y":24.5,"y2":26.95,"c":"G"},{"x":15,"x2":23,"y":24.5,"y2":26.95,"c":"y"},{"x":23,"x2":27,"y":24.5,"y2":26.95,"c":"o"},{"x":27,"x2":33,"y":24.5,"y2":26.95,"c":"y"},{"x":33,"x2":42,"y":24.5,"y2":26.95,"c":"G"},{"x":42,"x2":45,"y":24.5,"y2":26.95,"c":"g"},{"x":45,"x2":49,"y":24.5,"y2":26.95,"c":"G"},
{"x":0,"x2":8,"y":22.05,"y2":24.5,"c":"G"},{"x":8,"x2":12,"y":22.05,"y2":24.5,"c":"g"},{"x":12,"x2":18,"y":22.05,"y2":24.5,"c":"G"},{"x":18,"x2":32,"y":22.05,"y2":24.5,"c":"y"},{"x":32,"x2":35,"y":22.05,"y2":24.5,"c":"G"},{"x":35,"x2":41,"y":22.05,"y2":24.5,"c":"g"},{"x":41,"x2":48,"y":22.05,"y2":24.5,"c":"m"},{"x":48,"x2":49,"y":22.05,"y2":24.5,"c":"g"},
{"x":0,"x2":10,"y":19.6,"y2":22.05,"c":"G"},{"x":10,"x2":13,"y":19.6,"y2":22.05,"c":"m"},{"x":13,"x2":29,"y":19.6,"y2":22.05,"c":"G"},{"x":29,"x2":32.5,"y":19.6,"y2":22.05,"c":"y"},{"x":32.5,"x2":35,"y":19.6,"y2":22.05,"c":"G"},{"x":35,"x2":39,"y":19.6,"y2":22.05,"c":"g"},{"x":39,"x2":48,"y":19.6,"y2":22.05,"c":"m"},{"x":48,"x2":49,"y":19.6,"y2":22.05,"c":"g"},
{"x":0,"x2":5,"y":17.15,"y2":19.6,"c":"G"},{"x":5,"x2":7,"y":17.15,"y2":19.6,"c":"g"},{"x":7,"x2":14,"y":17.15,"y2":19.6,"c":"m"},{"x":14,"x2":19,"y":17.15,"y2":19.6,"c":"g"},{"x":19,"x2":26,"y":17.15,"y2":19.6,"c":"G"},{"x":26,"x2":34.5,"y":17.15,"y2":19.6,"c":"y"},{"x":34.5,"x2":39,"y":17.15,"y2":19.6,"c":"G"},{"x":39,"x2":49,"y":17.15,"y2":19.6,"c":"m"},
{"x":0,"x2":6,"y":14.7,"y2":17.15,"c":"g"},{"x":6,"x2":12,"y":14.7,"y2":17.15,"c":"m"},{"x":12,"x2":18,"y":14.7,"y2":17.15,"c":"g"},{"x":18,"x2":27,"y":14.7,"y2":17.15,"c":"G"},{"x":27,"x2":35,"y":14.7,"y2":17.15,"c":"y"},{"x":35,"x2":38,"y":14.7,"y2":17.15,"c":"G"},{"x":38,"x2":49,"y":14.7,"y2":17.15,"c":"g"},
{"x":0,"x2":10,"y":12.25,"y2":14.7,"c":"g"},{"x":10,"x2":12,"y":12.25,"y2":14.7,"c":"m"},{"x":12,"x2":18,"y":12.25,"y2":14.7,"c":"g"},{"x":18,"x2":23,"y":12.25,"y2":14.7,"c":"G"},{"x":23,"x2":25,"y":12.25,"y2":14.7,"c":"y"},{"x":25,"x2":38,"y":12.25,"y2":14.7,"c":"G"},{"x":38,"x2":49,"y":12.25,"y2":14.7,"c":"g"},
{"x":0,"x2":3,"y":9.8,"y2":12.25,"c":"g"},{"x":3,"x2":8,"y":9.8,"y2":12.25,"c":"G"},{"x":8,"x2":12,"y":9.8,"y2":12.25,"c":"g"},{"x":12,"x2":24,"y":9.8,"y2":12.25,"c":"G"},{"x":24,"x2":25,"y":9.8,"y2":12.25,"c":"y"},{"x":25,"x2":30,"y":9.8,"y2":12.25,"c":"G"},{"x":30,"x2":33,"y":9.8,"y2":12.25,"c":"g"},{"x":33,"x2":38,"y":9.8,"y2":12.25,"c":"G"},{"x":38,"x2":41,"y":9.8,"y2":12.25,"c":"g"},{"x":41,"x2":49,"y":9.8,"y2":12.25,"c":"G"},
{"x":0,"x2":9,"y":7.35,"y2":9.8,"c":"G"},{"x":9,"x2":23,"y":7.35,"y2":9.8,"c":"g"},{"x":23,"x2":30,"y":7.35,"y2":9.8,"c":"G"},{"x":30,"x2":34,"y":7.35,"y2":9.8,"c":"g"},{"x":34,"x2":49,"y":7.35,"y2":9.8,"c":"G"},
{"x":0,"x2":10,"y":4.9,"y2":7.35,"c":"G"},{"x":10,"x2":23,"y":4.9,"y2":7.35,"c":"g"},{"x":23,"x2":49,"y":4.9,"y2":7.35,"c":"G"},
{"x":0,"x2":13,"y":2.45,"y2":4.9,"c":"G"},{"x":13,"x2":26,"y":2.45,"y2":4.9,"c":"g"},{"x":26,"x2":37,"y":2.45,"y2":4.9,"c":"G"},{"x":37,"x2":40,"y":2.45,"y2":4.9,"c":"g"},{"x":40,"x2":49,"y":2.45,"y2":4.9,"c":"G"},
{"x":0,"x2":9,"y":0,"y2":2.45,"c":"G"},{"x":9,"x2":12,"y":0,"y2":2.45,"c":"m"},{"x":12,"x2":25,"y":0,"y2":2.45,"c":"g"},{"x":25,"x2":37,"y":0,"y2":2.45,"c":"G"},{"x":37,"x2":42,"y":0,"y2":2.45,"c":"g"},{"x":42,"x2":49,"y":0,"y2":2.45,"c":"G"}],
"ds":[{"x":10.9,"y":48,"h":"o","k":"r"},{"x":7.9,"y":43.8,"h":"o","k":"R"},{"x":10.9,"y":42,"h":"y","k":"y"},{"x":0.8,"y":39,"h":"o","k":"r"},{"x":14.8,"y":40,"h":"r","k":"R"},{"x":0.2,"y":43,"h":"l","k":"G"},{"x":22.9,"y":44,"h":"y","k":"G"},{"x":28,"y":41,"h":"m","k":"B"},{"x":29,"y":38,"h":"m","k":"B"},{"x":30,"y":43,"h":"y","k":"y"},{"x":48,"y":43,"h":"y","k":"R"},{"x":39.1,"y":41,"h":"l","k":"l"},{"x":41.3,"y":40,"h":"y","k":"R"},{"x":34,"y":39,"h":"o","k":"y"},{"x":21.1,"y":36.9,"h":"y","k":"R"},{"x":47.2,"y":35.9,"h":"o","k":"P"},{"x":40,"y":35.9,"h":"y","k":"y"},{"x":48,"y":33,"h":"m","k":"l"},{"x":41.3,"y":33.3,"h":"y","k":"y"},{"x":18.9,"y":33,"h":"o","k":"R"},{"x":21.9,"y":32,"h":"o","k":"r"},{"x":0.8,"y":29.9,"h":"y","k":"r"},{"x":10,"y":29.9,"h":"y","k":"D"},{"x":2.7,"y":27.8,"h":"y","k":"r"},{"x":4.8,"y":26.8,"h":"m","k":"B"},{"x":34.9,"y":29.9,"h":"m","k":"B"},{"x":39.1,"y":27.8,"h":"m","k":"a"},{"x":11.9,"y":23.9,"h":"m","k":"B"},{"x":15.8,"y":22.9,"h":"m","k":"l"},{"x":24,"y":21,"h":"r","k":"M"},{"x":28,"y":21.9,"h":"o","k":"r"},{"x":2.8,"y":20.9,"h":"y","k":"o"},{"x":1.7,"y":17,"h":"y","k":"r"},{"x":22.9,"y":17.8,"h":"y","k":"R"},{"x":27,"y":16.9,"h":"o","k":"o"},{"x":4.9,"y":13.9,"h":"m","k":"B"},{"x":19,"y":13.9,"h":"m","k":"B"},{"x":30.2,"y":14,"h":"y","k":"G"},{"x":2.8,"y":11,"h":"o","k":"P"},{"x":41.1,"y":13.9,"h":"l","k":"l"},{"x":37,"y":10.9,"h":"y","k":"o"},{"x":21.8,"y":8.9,"h":"y","k":"o"},{"x":3.9,"y":6.9,"h":"g","k":"B"},{"x":6.8,"y":4.9,"h":"y","k":"o"},{"x":6.8,"y":4,"h":"y","k":"o"},{"x":1.7,"y":1.9,"h":"y","k":"o"},{"x":34,"y":8,"h":"y","k":"y"},{"x":17.8,"y":3,"h":"y","k":"G"},{"x":9.8,"y":1,"h":"l","k":"l"},{"x":25.2,"y":4.3,"h":"g","k":"g"},{"x":28,"y":9.8,"h":"m","k":"l"},{"x":34,"y":48,"h":"m","k":"B"},{"x":48,"y":45.9,"h":"m","k":"l"},{"x":40,"y":21.9,"h":"y","k":"o"},{"x":42,"y":17.8,"h":"G","k":"G"},{"x":45,"y":0.4,"h":"y","k":"o"}],
"la":[{"lo":9.05,"hi":8.65,"c":"P"},{"lo":8.65,"hi":8.24,"c":"M"},{"lo":8.24,"hi":7.84,"c":"D"},{"lo":7.84,"hi":7.44,"c":"R"},{"lo":7.44,"hi":7.04,"c":"r"},{"lo":7.04,"hi":6.64,"c":"o"},{"lo":6.64,"hi":6.23,"c":"y"},{"lo":6.23,"hi":5.83,"c":"G"},{"lo":5.83,"hi":5.43,"c":"g"},{"lo":5.43,"hi":5.03,"c":"m"},{"lo":5.03,"hi":4.63,"c":"l"},{"lo":4.63,"hi":4.22,"c":"B"},{"lo":4.22,"hi":3.82,"c":"a"},{"lo":3.82,"hi":3.42,"c":"c"}],
"lb":[{"lo":0.791,"hi":0.743,"c":"P"},{"lo":0.743,"hi":0.694,"c":"M"},{"lo":0.694,"hi":0.645,"c":"D"},{"lo":0.645,"hi":0.597,"c":"R"},{"lo":0.597,"hi":0.548,"c":"r"},{"lo":0.548,"hi":0.499,"c":"o"},{"lo":0.499,"hi":0.451,"c":"y"},{"lo":0.451,"hi":0.402,"c":"G"},{"lo":0.402,"hi":0.353,"c":"g"},{"lo":0.353,"hi":0.305,"c":"m"},{"lo":0.305,"hi":0.256,"c":"l"},{"lo":0.256,"hi":0.207,"c":"B"},{"lo":0.207,"hi":0.159,"c":"a"},{"lo":0.159,"hi":0.11,"c":"c"}],
"lc":[{"lo":1.88,"hi":1.76,"c":"P"},{"lo":1.76,"hi":1.63,"c":"M"},{"lo":1.63,"hi":1.51,"c":"D"},{"lo":1.51,"hi":1.38,"c":"R"},{"lo":1.38,"hi":1.25,"c":"r"},{"lo":1.25,"hi":1.13,"c":"o"},{"lo":1.13,"hi":1.0,"c":"y"},{"lo":1.0,"hi":0.88,"c":"G"},{"lo":0.88,"hi":0.75,"c":"g"},{"lo":0.75,"hi":0.63,"c":"m"},{"lo":0.63,"hi":0.5,"c":"l"},{"lo":0.5,"hi":0.37,"c":"B"},{"lo":0.37,"hi":0.25,"c":"a"},{"lo":0.25,"hi":0.12,"c":"c"}],
"ld":[{"lo":1.61,"hi":1.38,"c":"P"},{"lo":1.38,"hi":1.16,"c":"M"},{"lo":1.16,"hi":0.93,"c":"D"},{"lo":0.93,"hi":0.71,"c":"R"},{"lo":0.71,"hi":0.48,"c":"r"},{"lo":0.48,"hi":0.26,"c":"o"},{"lo":0.26,"hi":0.03,"c":"y"},{"lo":0.03,"hi":-0.19,"c":"G"},{"lo":-0.19,"hi":-0.42,"c":"g"},{"lo":-0.42,"hi":-0.64,"c":"m"},{"lo":-0.64,"hi":-0.87,"c":"l"},{"lo":-0.87,"hi":-1.09,"c":"B"},{"lo":-1.09,"hi":-1.32,"c":"a"},{"lo":-1.32,"hi":-1.54,"c":"c"}]
},
"vconcat":[
{"bounds":"flush","spacing":7,"hconcat":[
{"width":1,"height":261,"data":{"name":"z"},"mark":{"type":"rule","opacity":0},"encoding":{}},
{"bounds":"flush","spacing":33,"hconcat":[
{"width":266,"height":261,"view":{"stroke":"#333","strokeWidth":2},"title":{"text":"A)","dx":-68,"dy":58},
"encoding":{"x":{"field":"x","type":"quantitative","scale":{"domain":[0,49.75],"nice":false},"axis":{"values":[0,8.17,16.33,24.5,32.67,40.83,49],"labelExpr":"abs(datum.value/16.3333-round(datum.value/16.3333))<0.01?format(datum.value,'.1f'):''"}},"y":{"field":"y","type":"quantitative","scale":{"domain":[0,50.15],"nice":false},"axis":{"values":[0,8.17,16.33,24.5,32.67,40.83,49],"labelExpr":"abs(datum.value/16.3333-round(datum.value/16.3333))<0.01?format(datum.value,'.1f'):''"}}},
"layer":[
{"data":{"name":"a"},"mark":{"type":"rect","strokeWidth":0.6},"encoding":{"x2":{"field":"x2"},"y2":{"field":"y2"},"color":{"field":"c","type":"nominal","legend":null,"scale":{"domain":["P","M","D","R","r","o","y","G","g","m","l","B","a","c"]}},"stroke":{"field":"c","type":"nominal","legend":null,"scale":{"domain":["P","M","D","R","r","o","y","G","g","m","l","B","a","c"]}}}},
{"data":{"name":"as"},"mark":{"type":"circle","size":70},"encoding":{"color":{"field":"h","type":"nominal","legend":null,"scale":{"domain":["P","M","D","R","r","o","y","G","g","m","l","B","a","c"]}}}},
{"data":{"name":"as"},"mark":{"type":"circle","size":16},"encoding":{"color":{"field":"k","type":"nominal","legend":null,"scale":{"domain":["P","M","D","R","r","o","y","G","g","m","l","B","a","c"]}}}},
{"data":{"name":"z"},"mark":{"type":"rule","color":"#3f6a9e","strokeWidth":4},"encoding":{"x":{"value":-93},"y":{"value":-17},"y2":{"value":701}}},
{"data":{"name":"z"},"mark":{"type":"rule","color":"#2f5a8a","strokeWidth":3},"encoding":{"y":{"value":-17},"x":{"value":-93},"x2":{"value":815}}}
]},
{"width":33,"height":261,"data":{"name":"la"},"mark":"rect","encoding":{"y":{"field":"lo","type":"quantitative","scale":{"domain":[1.3,13.32],"nice":false},"axis":{"orient":"right","values":[9.45,9.05,8.65,8.24,7.84,7.44,7.04,6.64,6.23,5.83,5.43,5.03,4.63,4.22,3.82,3.42],"format":".2f","ticks":false,"labelFontSize":5.5,"labelPadding":11}},"y2":{"field":"hi"},"color":{"field":"c","type":"nominal","legend":null,"scale":{"domain":["P","M","D","R","r","o","y","G","g","m","l","B","a","c"]}}}},
{"width":29,"height":10,"data":{"name":"z"},"mark":{"type":"rule","opacity":0},"encoding":{}},
{"width":270,"height":261,"view":{"stroke":"#333","strokeWidth":2},"title":{"text":"B)","dx":-69,"dy":38},
"encoding":{"x":{"field":"x","type":"quantitative","scale":{"domain":[0,50],"nice":false},"axis":{"values":[0,8.17,16.33,24.5,32.67,40.83,49],"labelExpr":"abs(datum.value/16.3333-round(datum.value/16.3333))<0.01?format(datum.value,'.1f'):''"}},"y":{"field":"y","type":"quantitative","scale":{"domain":[0,49.96],"nice":false},"axis":{"values":[0,8.17,16.33,24.5,32.67,40.83,49],"labelExpr":"abs(datum.value/16.3333-round(datum.value/16.3333))<0.01?format(datum.value,'.1f'):''"}}},
"layer":[
{"data":{"name":"b"},"mark":{"type":"rect","strokeWidth":0.6},"encoding":{"x2":{"field":"x2"},"y2":{"field":"y2"},"color":{"field":"c","type":"nominal","legend":null,"scale":{"domain":["P","M","D","R","r","o","y","G","g","m","l","B","a","c"]}},"stroke":{"field":"c","type":"nominal","legend":null,"scale":{"domain":["P","M","D","R","r","o","y","G","g","m","l","B","a","c"]}}}},
{"data":{"name":"bs"},"mark":{"type":"circle","size":70},"encoding":{"color":{"field":"h","type":"nominal","legend":null,"scale":{"domain":["P","M","D","R","r","o","y","G","g","m","l","B","a","c"]}}}},
{"data":{"name":"bs"},"mark":{"type":"circle","size":16},"encoding":{"color":{"field":"k","type":"nominal","legend":null,"scale":{"domain":["P","M","D","R","r","o","y","G","g","m","l","B","a","c"]}}}}
]},
{"width":33,"height":261,"layer":[{"data":{"name":"lb"},"mark":"rect","encoding":{"y":{"field":"lo","type":"quantitative","scale":{"domain":[-0.13,1.292],"nice":false},"axis":{"orient":"right","values":[0.84,0.791,0.743,0.694,0.645,0.597,0.548,0.499,0.451,0.402,0.353,0.305,0.256,0.207,0.159,0.11],"format":".3f","ticks":false,"labelFontSize":5.5,"labelPadding":11}},"y2":{"field":"hi"},"color":{"field":"c","type":"nominal","legend":null,"scale":{"domain":["P","M","D","R","r","o","y","G","g","m","l","B","a","c"]}}}},
{"data":{"name":"z"},"mark":{"type":"rule","color":"#c8c8c8","strokeWidth":1.5},"encoding":{"x":{"value":-11},"x2":{"value":74},"y":{"value":226}}},
{"data":{"name":"z"},"mark":{"type":"rule","color":"#eeeeee","strokeWidth":1},"encoding":{"x":{"value":-11},"y":{"value":61},"y2":{"value":226}}}]}
]}]},
{"bounds":"flush","spacing":34,"hconcat":[
{"width":271,"height":266,"view":{"stroke":"#333","strokeWidth":2},"title":{"text":"C)","dx":-72,"dy":46},
"encoding":{"x":{"field":"x","type":"quantitative","scale":{"domain":[0,49.73],"nice":false},"axis":{"values":[0,8.17,16.33,24.5,32.67,40.83,49],"labelExpr":"abs(datum.value/16.3333-round(datum.value/16.3333))<0.01?format(datum.value,'.1f'):''"}},"y":{"field":"y","type":"quantitative","scale":{"domain":[0,49.94],"nice":false},"axis":{"values":[0,8.17,16.33,24.5,32.67,40.83,49],"labelExpr":"abs(datum.value/16.3333-round(datum.value/16.3333))<0.01?format(datum.value,'.1f'):''"}}},
"layer":[
{"data":{"name":"c"},"mark":{"type":"rect","strokeWidth":0.6},"encoding":{"x2":{"field":"x2"},"y2":{"field":"y2"},"color":{"field":"c","type":"nominal","legend":null,"scale":{"domain":["P","M","D","R","r","o","y","G","g","m","l","B","a","c"]}},"stroke":{"field":"c","type":"nominal","legend":null,"scale":{"domain":["P","M","D","R","r","o","y","G","g","m","l","B","a","c"]}}}},
{"data":{"name":"cs"},"mark":{"type":"circle","size":70},"encoding":{"color":{"field":"h","type":"nominal","legend":null,"scale":{"domain":["P","M","D","R","r","o","y","G","g","m","l","B","a","c"]}}}},
{"data":{"name":"cs"},"mark":{"type":"circle","size":16},"encoding":{"color":{"field":"k","type":"nominal","legend":null,"scale":{"domain":["P","M","D","R","r","o","y","G","g","m","l","B","a","c"]}}}}
]},
{"width":33,"height":266,"data":{"name":"lc"},"mark":"rect","encoding":{"y":{"field":"lo","type":"quantitative","scale":{"domain":[-0.529,3.223],"nice":false},"axis":{"orient":"right","values":[2.01,1.88,1.76,1.63,1.51,1.38,1.25,1.13,1.0,0.88,0.75,0.63,0.5,0.37,0.25,0.12],"format":".2f","ticks":false,"labelFontSize":5.5,"labelPadding":11}},"y2":{"field":"hi"},"color":{"field":"c","type":"nominal","legend":null,"scale":{"domain":["P","M","D","R","r","o","y","G","g","m","l","B","a","c"]}}}},
{"width":29,"height":10,"data":{"name":"z"},"mark":{"type":"rule","opacity":0},"encoding":{}},
{"width":270,"height":266,"view":{"stroke":"#333","strokeWidth":2},"title":{"text":"D)","dx":-67,"dy":48},
"encoding":{"x":{"field":"x","type":"quantitative","scale":{"domain":[0,50],"nice":false},"axis":{"values":[0,8.17,16.33,24.5,32.67,40.83,49],"labelExpr":"abs(datum.value/16.3333-round(datum.value/16.3333))<0.01?format(datum.value,'.1f'):''"}},"y":{"field":"y","type":"quantitative","scale":{"domain":[0,50.13],"nice":false},"axis":{"values":[0,8.17,16.33,24.5,32.67,40.83,49],"labelExpr":"abs(datum.value/16.3333-round(datum.value/16.3333))<0.01?format(datum.value,'.1f'):''"}}},
"layer":[
{"data":{"name":"d"},"mark":{"type":"rect","strokeWidth":0.6},"encoding":{"x2":{"field":"x2"},"y2":{"field":"y2"},"color":{"field":"c","type":"nominal","legend":null,"scale":{"domain":["P","M","D","R","r","o","y","G","g","m","l","B","a","c"]}},"stroke":{"field":"c","type":"nominal","legend":null,"scale":{"domain":["P","M","D","R","r","o","y","G","g","m","l","B","a","c"]}}}},
{"data":{"name":"ds"},"mark":{"type":"circle","size":70},"encoding":{"color":{"field":"h","type":"nominal","legend":null,"scale":{"domain":["P","M","D","R","r","o","y","G","g","m","l","B","a","c"]}}}},
{"data":{"name":"ds"},"mark":{"type":"circle","size":16},"encoding":{"color":{"field":"k","type":"nominal","legend":null,"scale":{"domain":["P","M","D","R","r","o","y","G","g","m","l","B","a","c"]}}}}
]},
{"width":33,"height":266,"data":{"name":"ld"},"mark":"rect","encoding":{"y":{"field":"lo","type":"quantitative","scale":{"domain":[-2.697,3.993],"nice":false},"axis":{"orient":"right","values":[1.83,1.61,1.38,1.16,0.93,0.71,0.48,0.26,0.03,-0.19,-0.42,-0.64,-0.87,-1.09,-1.32,-1.54],"format":".2f","ticks":false,"labelFontSize":5.5,"labelPadding":11}},"y2":{"field":"hi"},"color":{"field":"c","type":"nominal","legend":null,"scale":{"domain":["P","M","D","R","r","o","y","G","g","m","l","B","a","c"]}}}}
]}
],
"resolve":{"scale":{"color":"independent"}}}
